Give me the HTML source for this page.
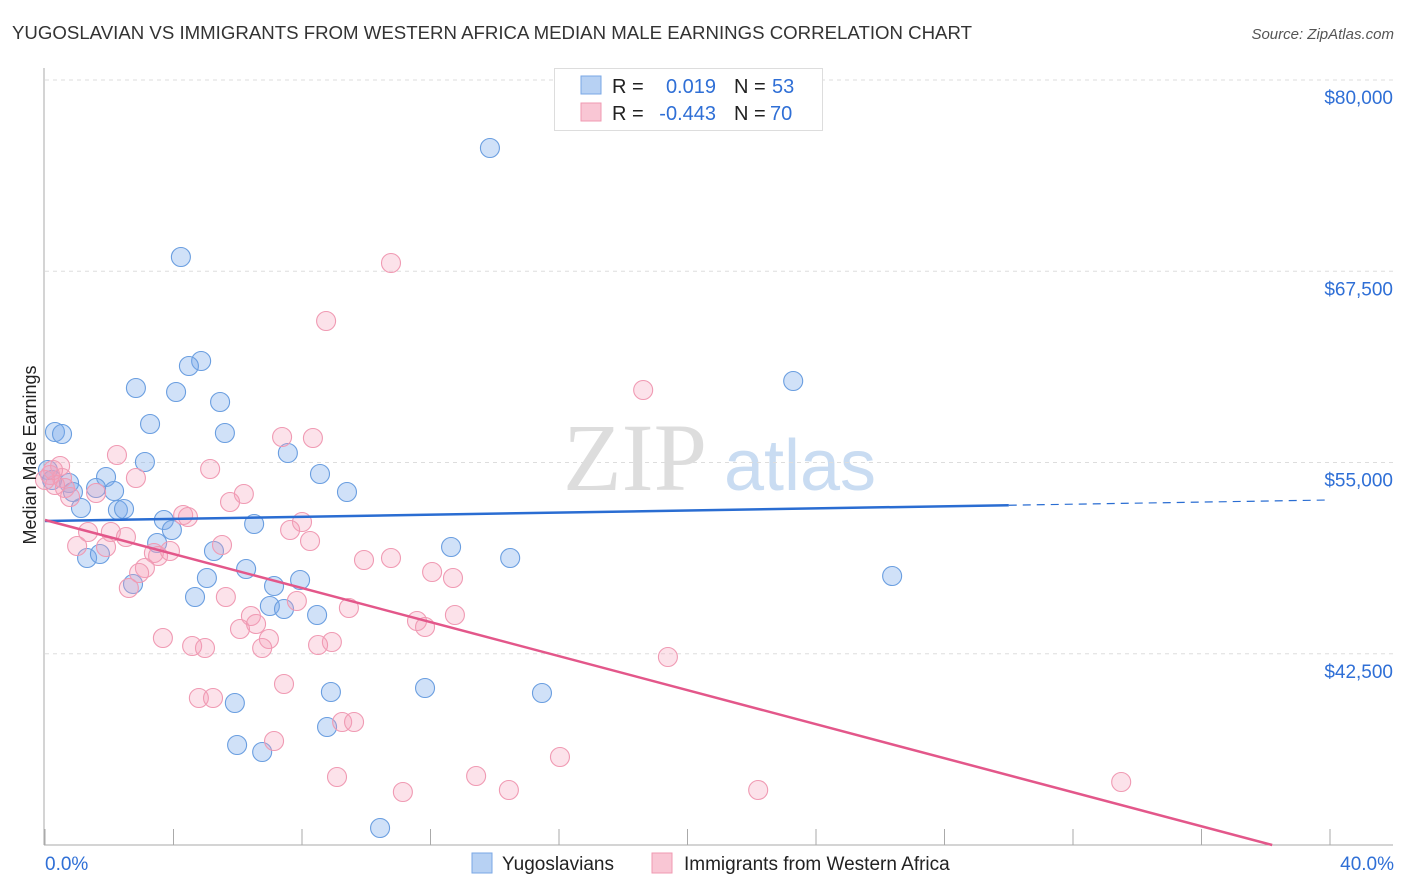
<!DOCTYPE html>
<html><head><meta charset="utf-8"><style>
body{margin:0;background:#fff;font-family:"Liberation Sans",sans-serif;}
svg{display:block}
</style></head><body>
<svg id="chart" width="1406" height="892" xmlns="http://www.w3.org/2000/svg">
<text x="12" y="39" font-size="18" fill="#333" textLength="960" lengthAdjust="spacingAndGlyphs">YUGOSLAVIAN VS IMMIGRANTS FROM WESTERN AFRICA MEDIAN MALE EARNINGS CORRELATION CHART</text>
<text x="1394" y="39" font-size="15" fill="#555" font-style="italic" text-anchor="end">Source: ZipAtlas.com</text>
<g>
<text x="635" y="490" font-size="96" font-family="Liberation Serif,serif" fill="#ddd" text-anchor="middle">ZIP</text>
<text x="800" y="490" font-size="72" fill="#c9dcf2" text-anchor="middle">atlas</text>
</g>
<g id="grid"></g>
<g id="axes"></g>
<g id="points"></g>
<g id="trends"></g>
<text transform="translate(36,455) rotate(-90)" font-size="18" fill="#222" text-anchor="middle">Median Male Earnings</text>
<g>
<rect x="554.5" y="68.5" width="268" height="62" fill="#fff" stroke="#ddd"/>
<rect x="581" y="76" width="20" height="18" fill="#b7d1f3" stroke="#7aa7e6"/>
<rect x="581" y="103" width="20" height="18" fill="#f9c6d4" stroke="#f099b2"/>
<text x="612" y="93" font-size="20" fill="#222">R =</text>
<text x="716" y="93" font-size="20" fill="#2f6fd6" text-anchor="end">0.019</text>
<text x="734" y="93" font-size="20" fill="#222">N =</text>
<text x="772" y="93" font-size="20" fill="#2f6fd6">53</text>
<text x="612" y="120" font-size="20" fill="#222">R =</text>
<text x="716" y="120" font-size="20" fill="#2f6fd6" text-anchor="end">-0.443</text>
<text x="734" y="120" font-size="20" fill="#222">N =</text>
<text x="770" y="120" font-size="20" fill="#2f6fd6">70</text>
</g>
<g>
<rect x="472" y="853" width="20" height="20" fill="#b7d1f3" stroke="#7aa7e6"/>
<text x="502" y="870" font-size="19" fill="#222">Yugoslavians</text>
<rect x="652" y="853" width="20" height="20" fill="#f9c6d4" stroke="#f099b2"/>
<text x="684" y="870" font-size="19" fill="#222">Immigrants from Western Africa</text>
</g>
</svg>
<script>
const yTicks=[80000,67500,55000,42500];
const xTickLabels=["0.0%","40.0%"];
const blueX=[13.85,4.23,4.86,4.48,2.83,4.08,5.45,3.27,5.60,0.31,0.53,3.11,7.56,8.56,23.29,9.40,1.90,0.75,1.59,2.15,1.12,2.27,2.46,0.87,3.70,3.95,6.51,3.49,5.26,12.64,14.48,1.31,1.71,6.26,5.04,7.94,7.13,2.74,4.67,26.37,7.00,7.44,8.47,8.90,11.83,15.47,5.91,8.78,5.98,6.76,10.43,0.09,0.22,21.4];
const blueY=[75556,68431,61634,61307,59869,59608,58954,57516,56928,56993,56863,55033,55621,54248,60327,53072,54052,53660,53333,53137,52026,51895,51961,53072,51242,50588,50980,49739,49216,49477,48758,48758,49020,48039,47451,47320,46928,47059,46209,47582,45621,45425,45033,40000,40261,39935,39281,37712,36536,36078,31111,54510,53856,78700];
const pinkX=[10.77,8.75,18.62,7.38,8.34,2.24,5.14,2.83,0.47,0.53,0.62,0.78,1.59,6.19,5.76,4.30,4.45,8.00,7.63,1.34,2.05,2.52,8.25,1.00,1.90,5.51,3.39,3.52,3.89,9.93,10.77,12.05,12.70,3.11,2.93,2.61,5.63,7.84,9.46,6.41,11.58,11.83,12.76,6.07,6.57,3.67,6.97,8.93,8.50,4.58,4.98,6.76,19.39,7.44,4.79,5.23,9.25,9.62,7.13,16.03,9.09,13.42,11.14,14.44,22.20,33.50,0.16,0.31,0.00,0.25];
const pinkY=[68039,64248,59739,56667,56601,55490,54575,53987,54771,53987,53333,52745,53007,52941,52418,51569,51438,51111,50588,50458,50458,50131,49869,49542,49477,49608,49085,48889,49216,48627,48758,47843,47451,48105,47778,46797,46209,45948,45490,44967,44641,44248,45033,44118,44444,43529,43464,43268,43072,43007,42876,42876,42288,40523,39608,39608,38039,38039,36797,35752,34444,34510,33464,33595,33595,34118,54183,53529,53856,54510];
const blueTrend=[51176,52550];   // values at 0% and 40%
const pinkTrend=[51242,28999];   // values at 0% and 40%
const blueSolidEnd=30;
const X0=45,X1=1330,Y0=80,Y1=845,VMAX=80000,VMIN=30000;
const xs=p=>X0+p/40*(X1-X0);
const ys=v=>Y0+(VMAX-v)/(VMAX-VMIN)*(Y1-Y0);
const NS="http://www.w3.org/2000/svg";
function mk(parent,tag,attrs){const e=document.createElementNS(NS,tag);for(const k in attrs)e.setAttribute(k,attrs[k]);document.getElementById(parent).appendChild(e);return e;}
yTicks.forEach(v=>{
  const l=mk('grid','line',{x1:X0,x2:1393,y1:ys(v),y2:ys(v),stroke:'#ddd','stroke-dasharray':'4 4'});
  
  
  const t=mk('grid','text',{x:1393,y:ys(v)+24,'font-size':19,fill:'#2f6fd6','text-anchor':'end'});
  t.textContent='$'+v.toLocaleString('en-US');
  
  
});
const ax=mk('axes','line',{x1:44,x2:44,y1:68,y2:845,stroke:'#aaa'});


const bx=mk('axes','line',{x1:44,x2:1393,y1:845,y2:845,stroke:'#aaa'});


for(let i=0;i<=10;i++){
  const tk=mk('axes','line',{x1:xs(i*4),x2:xs(i*4),y1:829,y2:845,stroke:'#aaa'});
  
  
}
[[0,'start',45],[40,'end',1394]].forEach((d,i)=>{
  const t=mk('axes','text',{x:d[2],y:870,'font-size':19,fill:'#2f6fd6','text-anchor':d[1]});
  t.textContent=xTickLabels[i];
  
  
});
blueX.forEach((p,i)=>{
  const c=mk('points','circle',{cx:xs(p),cy:ys(blueY[i]),r:9.5,fill:'rgba(120,170,235,0.35)',stroke:'#6a9ee0','stroke-width':1.1});
  
  
});
pinkX.forEach((p,i)=>{
  const c=mk('points','circle',{cx:xs(p),cy:ys(pinkY[i]),r:9.5,fill:'rgba(245,160,185,0.3)',stroke:'#f09ab3','stroke-width':1.1});
  
  
});
const bv=p=>blueTrend[0]+(blueTrend[1]-blueTrend[0])*p/40;
const b1=mk('trends','line',{x1:xs(0),y1:ys(bv(0)),x2:xs(blueSolidEnd),y2:ys(bv(blueSolidEnd)),stroke:'#2a6dd2','stroke-width':2.5});


const b2=mk('trends','line',{x1:xs(blueSolidEnd),y1:ys(bv(blueSolidEnd)),x2:xs(40),y2:ys(bv(40)),stroke:'#2a6dd2','stroke-width':1.2,'stroke-dasharray':'8 6'});


const pv=p=>pinkTrend[0]+(pinkTrend[1]-pinkTrend[0])*p/40;
const pEnd=Math.min(40,40*(pinkTrend[0]-VMIN)/(pinkTrend[0]-pinkTrend[1]));
const p1=mk('trends','line',{x1:xs(0),y1:ys(pv(0)),x2:xs(pEnd),y2:ys(pv(pEnd)),stroke:'#e3578a','stroke-width':2.5});


</script>
</body></html>
